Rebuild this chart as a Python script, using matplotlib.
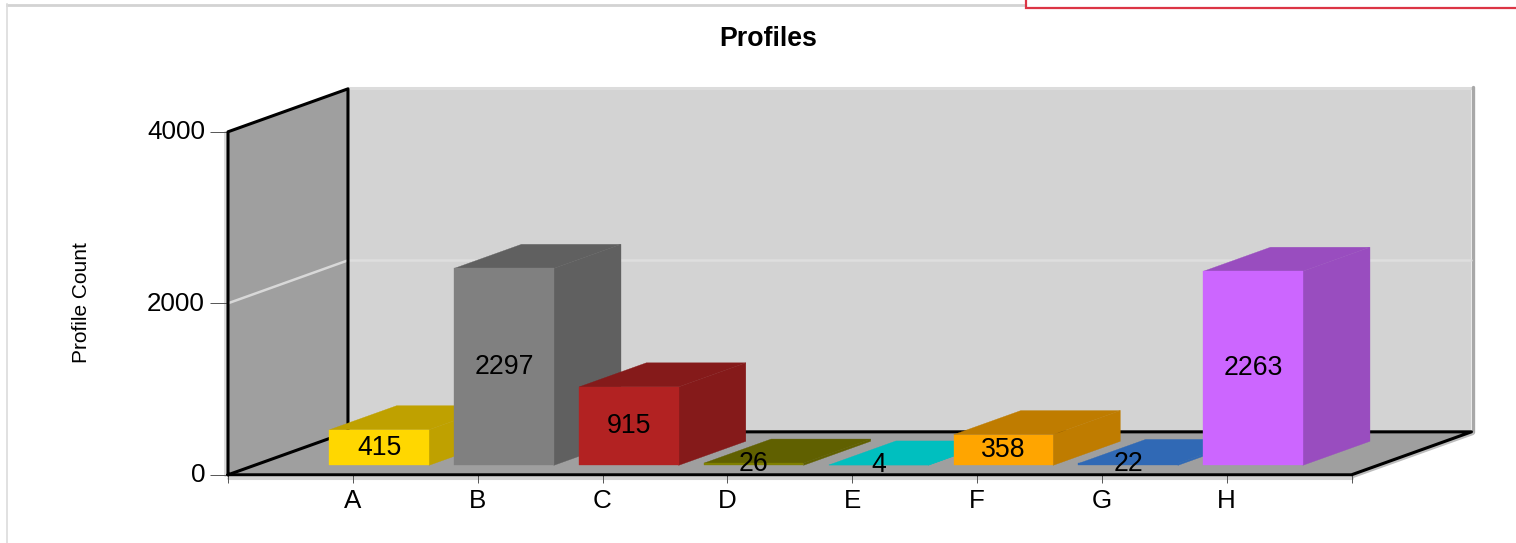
#!/usr/bin/env python3
"""Profiles chart: pseudo-3D bars on a box, drawn in value/category coordinates."""

import matplotlib
matplotlib.use("Agg")
import matplotlib.pyplot as plt
from matplotlib.patches import Polygon
from matplotlib.transforms import ScaledTranslation

categories = ["A", "B", "C", "D", "E", "F", "G", "H"]
values = [415, 2297, 915, 26, 4, 358, 22, 2263]
front_colors = ["#FFD700", "#808080", "#B22222", "#808000", "#00BFBF", "#FFA500", "#3069B5", "#CC66FF"]
top_colors = ["#BFA100", "#606060", "#851A1A", "#606000", "#00BFBF", "#BF7C00", "#3069B5", "#994DBF"]
side_colors = ["#BFA100", "#606060", "#851A1A", "#606000", "#00BFBF", "#BF7C00", "#3069B5", "#994DBF"]
y_ticks = [0, 2000, 4000]

W, H = 1516, 543
LEFT, RIGHT, BASE, TOP = 228.0, 1351.5, 474.8, 131.8
DEPTH_X = 0.961     # box depth in category units
DEPTH_Y = 501.0     # box depth in value units
BAR_W = 0.797
Z0, Z1 = 0.22, 0.78
XMIN, XMAX = -1, 8
YMAX = 4000

plt.rcParams["font.family"] = ["Liberation Sans", "DejaVu Sans"]


def proj(x, v, z):
    return (x + z * DEPTH_X, v + z * DEPTH_Y)


def face(ax, pts, color, zorder):
    # thin same-colour edge hides antialiasing seams between faces
    ax.add_patch(Polygon(pts, closed=True, facecolor=color, edgecolor=color, lw=0.25, clip_on=False, zorder=zorder))


def line(ax, pts, color, lw, zorder):
    ax.plot([p[0] for p in pts], [p[1] for p in pts], color=color, lw=lw, zorder=zorder,
            clip_on=False, solid_capstyle="round", solid_joinstyle="round")


fig = plt.figure(figsize=(W / 100, H / 100), dpi=100, facecolor="white")

# page furniture behind the chart
page = fig.add_axes([0, 0, 1, 1])
page.set_xlim(0, W)
page.set_ylim(H, 0)
page.axis("off")
page.plot([6.5, 1025], [4.5, 4.5], color="#D3D3D3", lw=2)
page.plot([6.5, 6.5], [4, H], color="#DCDCDC", lw=1.2)
page.plot([1025.5, 1025.5, W], [0, 8, 8], color="#DC3545", lw=1.6, solid_joinstyle="miter")

ax = fig.add_axes([LEFT / W, 1 - BASE / H, (RIGHT - LEFT) / W, (BASE - TOP) / H])
ax.patch.set_visible(False)
ax.set_xlim(XMIN, XMAX)
ax.set_ylim(0, YMAX)
for s in ax.spines.values():
    s.set_visible(False)

# box: back wall, left wall, floor
x0, x1 = XMIN, XMAX
face(ax, [proj(x0, 0, 1), proj(x1, 0, 1), proj(x1, YMAX, 1), proj(x0, YMAX, 1)], "#D3D3D3", 1)
face(ax, [proj(x0, 0, 0), proj(x0, 0, 1), proj(x0, YMAX, 1), proj(x0, YMAX, 0)], "#9F9F9F", 1)
face(ax, [proj(x0, 0, 0), proj(x1, 0, 0), proj(x1, 0, 1), proj(x0, 0, 1)], "#9F9F9F", 1)

# soft edge shadows
line(ax, [proj(x0, YMAX + 12, 1), proj(x1, YMAX + 12, 1)], "#DCDCDC", 2.2, 1.5)
line(ax, [proj(x1 + 0.012, 0, 1), proj(x1 + 0.012, YMAX + 25, 1)], "#A8A8A8", 2.4, 1.5)
line(ax, [proj(x0 - 0.024, 0, 0), proj(x0 - 0.024, YMAX, 0)], "#DCDCDC", 2.2, 1.5)
line(ax, [proj(x0, -40, 0), proj(x1, -40, 0)], "#D3D3D3", 2.2, 1.5)
line(ax, [proj(x1 + 0.012, -20, 0), proj(x1 + 0.012, -20, 1)], "#BDBDBD", 2.2, 1.5)

# grid line at 2000
line(ax, [proj(x0, 2000, 0), proj(x0, 2000, 1)], "#D8D8D8", 1.8, 2)
line(ax, [proj(x0, 2000, 1), proj(x1, 2000, 1)], "#DEDEDE", 1.8, 2)

# black box edges
line(ax, [proj(x0, 0, 0), proj(x0, YMAX, 0), proj(x0, YMAX, 1), proj(x0, 0, 1), proj(x0, 0, 0)], "black", 2.2, 3)
line(ax, [proj(x0, 0, 0), proj(x1, 0, 0), proj(x1, 0, 1), proj(x0, 0, 1)], "black", 2.2, 3)

# bars, left to right so later ones overlap earlier sides
for i, v in enumerate(values):
    z = 4 + i * 0.1
    xl = i - BAR_W / 2
    xr = i + BAR_W / 2
    face(ax, [proj(xr, 0, Z0), proj(xr, 0, Z1), proj(xr, v, Z1), proj(xr, v, Z0)], side_colors[i], z)
    face(ax, [proj(xl, v, Z0), proj(xr, v, Z0), proj(xr, v, Z1), proj(xl, v, Z1)], top_colors[i], z)
    face(ax, [proj(xl, 0, Z0), proj(xr, 0, Z0), proj(xr, v, Z0), proj(xl, v, Z0)], front_colors[i], z)

# value labels sit on top of every bar
for i, v in enumerate(values):
    cx, cy = proj(i, v / 2, Z0)
    ax.annotate(str(v), (cx, cy), xytext=(0, 0), textcoords="offset pixels", ha="center", va="center",
                fontsize=19.2, color="black", zorder=10, annotation_clip=False)

ax.set_xticks(range(XMIN, XMAX + 1))
ax.set_xticklabels([""] + categories + [""], fontsize=18.7)
ax.set_yticks(y_ticks)
ax.set_yticklabels([str(t) for t in y_ticks], fontsize=18.7)
ax.tick_params(axis="x", length=6, width=0.7, color="#555555", pad=4)
ax.tick_params(axis="y", length=13, width=0.7, color="#555555", pad=3.5)

# reference tick labels sit 2 px higher than matplotlib centres them
nudge = ScaledTranslation(0, 2 / 100, fig.dpi_scale_trans)
for lab in ax.get_yticklabels():
    lab.set_transform(lab.get_transform() + nudge)

fig.text(768.5 / W, 1 - 39 / H, "Profiles", ha="center", va="center", fontsize=19.3, fontweight="bold")
fig.text(81.5 / W, 1 - 303 / H, "Profile Count", ha="center", va="center", rotation=90, fontsize=15.0)

fig.savefig("out.png", dpi=100)
plt.close(fig)
